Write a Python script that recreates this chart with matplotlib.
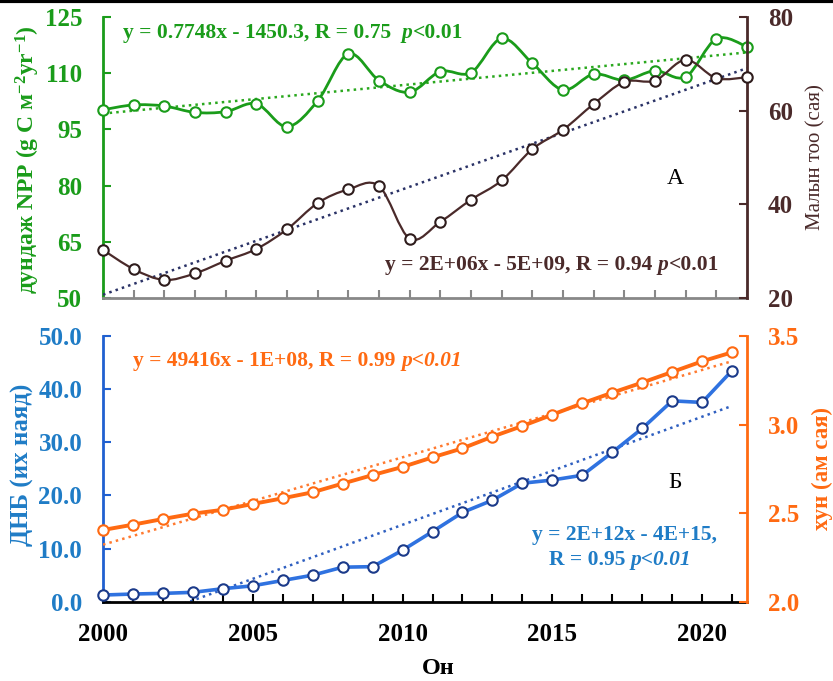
import numpy as np
import matplotlib
matplotlib.use("Agg")
import matplotlib.pyplot as plt
from matplotlib.path import Path
from matplotlib.patches import PathPatch
from matplotlib.lines import Line2D
from matplotlib.ticker import MultipleLocator, FixedLocator

plt.rcParams['font.family'] = ['Liberation Serif', 'DejaVu Serif']
plt.rcParams['mathtext.fontset'] = 'custom'
plt.rcParams['mathtext.rm'] = 'Liberation Serif:bold'
plt.rcParams['mathtext.bf'] = 'Liberation Serif:bold'
plt.rcParams['mathtext.it'] = 'Liberation Serif:italic:bold'

years = np.arange(2000, 2022)

# panel A
npp = [100.2, 101.5, 101.2, 99.5, 99.7, 101.8, 95.7, 102.6, 115.1, 108.0, 104.9,
       110.4, 110.1, 119.2, 112.6, 105.5, 109.7, 108.1, 110.6, 109.0, 119.1, 117.0]
livestock = [30.3, 26.2, 23.9, 25.3, 28.0, 30.5, 34.7, 40.3, 43.2, 43.9, 32.7,
             36.3, 41.0, 45.1, 51.8, 55.9, 61.4, 66.1, 66.4, 70.8, 66.9, 67.1]

# panel Б
gdp = [1.26, 1.45, 1.57, 1.77, 2.45, 3.0, 4.0, 5.0, 6.5, 6.6, 9.7,
       13.2, 16.8, 19.1, 22.3, 22.9, 23.8, 28.1, 32.6, 37.8, 37.5, 43.5]
population = [2.405, 2.435, 2.467, 2.497, 2.519, 2.552, 2.584, 2.618, 2.667, 2.715, 2.761,
              2.815, 2.866, 2.932, 2.992, 3.056, 3.12, 3.18, 3.237, 3.297, 3.357, 3.408]

GREEN = '#1a9c1a'
BROWN = '#4a2a2a'
NAVY = '#2a3266'
BLUE = '#2f72e0'
BLUE_TXT = '#1f7cc6'
ORANGE = '#ff6a12'
EQ = 15.5
MS = 7.5


def smooth_line(ax, x, y, color, lw):
    # excel-like smoothed line (catmull-rom as cubic bezier)
    p = np.column_stack([x, y]).astype(float)
    verts = [p[0]]
    codes = [Path.MOVETO]
    n = len(p)
    for i in range(n - 1):
        p0 = p[i - 1] if i > 0 else p[i]
        p3 = p[i + 2] if i + 2 < n else p[i + 1]
        c1 = p[i] + (p[i + 1] - p0) / 6
        c2 = p[i + 1] - (p3 - p[i]) / 6
        verts += [c1, c2, p[i + 1]]
        codes += [Path.CURVE4] * 3
    ax.add_patch(PathPatch(Path(verts, codes), fill=False, edgecolor=color, lw=lw, zorder=3))


def trend(ax, x, y, color):
    k, b = np.polyfit(x, y, 1)
    ax.plot(x, k * np.asarray(x) + b, ':', color=color, lw=1.8, zorder=2)


def rich(ax, x, y, parts, color, size):
    t = ax.text(x, y, parts[0][0], transform=ax.transAxes, color=color, fontsize=size,
                fontweight='bold', style=parts[0][1], va='center', ha='left')
    for s, st in parts[1:]:
        t = ax.annotate(s, xy=(1, 0), xycoords=t, color=color, fontsize=size,
                        fontweight='bold', style=st, va='bottom', ha='left')


fig = plt.figure(figsize=(8.33, 6.81), dpi=100, facecolor='white')
ax1 = fig.add_axes([0.1237, 0.5620, 0.7731, 0.4135])
ax1r = ax1.twinx()
ax2 = fig.add_axes([0.1237, 0.1164, 0.7731, 0.3902])
ax2r = ax2.twinx()

# --- panel A ---
trend(ax1, years, npp, '#2aa81e')
smooth_line(ax1, years, npp, GREEN, 2.0)
ax1.plot(years, npp, 'o', ms=MS, mfc='white', mec=GREEN, mew=1.5, zorder=4, clip_on=False)
trend(ax1r, years, livestock, NAVY)
smooth_line(ax1r, years, livestock, BROWN, 1.6)
ax1r.plot(years, livestock, 'o', ms=MS, mfc='white', mec='#2e1c1c', mew=1.5, zorder=4, clip_on=False)

ax1.set_xlim(2000, 2021)
ax1.set_ylim(50, 125)
ax1r.set_ylim(20, 80)
ax1.yaxis.set_major_locator(FixedLocator(np.arange(50, 126, 15)))
ax1r.yaxis.set_major_locator(MultipleLocator(20))
ax1.xaxis.set_major_locator(MultipleLocator(1))
ax1.tick_params(axis='x', direction='in', length=6, width=1.5, color='#888888', labelbottom=False)
ax1.tick_params(axis='y', direction='in', length=6, width=1.5, color=GREEN, labelcolor=GREEN,
                labelsize=18, pad=15)
ax1r.tick_params(axis='y', direction='in', length=6, width=1.5, color=BROWN, labelcolor=BROWN,
                 labelsize=18, pad=15)
for a in (ax1, ax1r):
    a.spines['top'].set_visible(False)
    for lab in a.get_yticklabels():
        lab.set_fontweight('bold')
ax1.spines['right'].set_visible(False)
ax1.spines['left'].set_color(GREEN)
ax1.spines['left'].set_linewidth(2)
ax1.spines['bottom'].set_color('#888888')
ax1.spines['bottom'].set_linewidth(2)
ax1r.spines['left'].set_visible(False)
ax1r.spines['bottom'].set_visible(False)
ax1r.spines['right'].set_color(BROWN)
ax1r.spines['right'].set_linewidth(2)

rich(ax1r, 0.031, 0.942, [('y = 0.7748x - 1450.3, R = 0.75  ', 'normal'), ('p', 'italic'),
                          ('<0.01', 'normal')], GREEN, EQ)
rich(ax1r, 0.438, 0.118, [('y = 2E+06x - 5E+09, R = 0.94 ', 'normal'), ('p', 'italic'),
                          ('<0.01', 'normal')], '#4a2a2a', EQ)
ax1r.text(0.888, 0.427, 'А', transform=ax1r.transAxes, fontsize=17, ha='center', va='center')

# --- panel Б ---
trend(ax2, years, gdp, '#2f5fc0')
ax2.plot(years, gdp, '-', color=BLUE, lw=2.6, zorder=3)
ax2.plot(years, gdp, 'o', ms=MS, mfc='white', mec='#1b3a8a', mew=1.5, zorder=4, clip_on=False)
trend(ax2r, years, population, '#ff7a30')
ax2r.plot(years, population, '-', color=ORANGE, lw=2.8, zorder=3)
ax2r.plot(years, population, 'o', ms=MS, mfc='white', mec=ORANGE, mew=1.5, zorder=4, clip_on=False)

ax2.set_xlim(2000, 2021.5)
ax2.set_ylim(0, 50)
ax2r.set_ylim(2.0, 3.5)
ax2.yaxis.set_major_locator(MultipleLocator(10))
ax2r.yaxis.set_major_locator(MultipleLocator(0.5))
ax2.yaxis.set_major_formatter('{x:.1f}')
ax2r.yaxis.set_major_formatter('{x:.1f}')
ax2.xaxis.set_major_locator(FixedLocator([2000, 2005, 2010, 2015, 2020]))
ax2.xaxis.set_minor_locator(MultipleLocator(1))
ax2.tick_params(axis='x', which='both', direction='in', length=6, width=1.5, color='black',
                labelsize=18, pad=15)
ax2.tick_params(axis='y', direction='in', length=6, width=1.5, color='#2060d0', labelcolor=BLUE_TXT,
                labelsize=18, pad=15)
ax2r.tick_params(axis='y', direction='in', length=6, width=1.5, color=ORANGE, labelcolor=ORANGE,
                 labelsize=18, pad=15)
for lab in ax2.get_xticklabels() + ax2.get_yticklabels() + ax2r.get_yticklabels():
    lab.set_fontweight('bold')
for a in (ax2, ax2r):
    a.spines['top'].set_visible(False)
ax2.spines['right'].set_visible(False)
ax2.spines['left'].set_color('#2060d0')
ax2.spines['left'].set_linewidth(2)
ax2.spines['bottom'].set_linewidth(2)
ax2r.spines['left'].set_visible(False)
ax2r.spines['bottom'].set_visible(False)
ax2r.spines['right'].set_color(ORANGE)
ax2r.spines['right'].set_linewidth(2)

rich(ax2r, 0.047, 0.906, [('y = 49416x - 1E+08, R = 0.99 ', 'normal'), ('p<0.01', 'italic')],
     ORANGE, EQ)
ax2r.text(0.809, 0.251, 'y = 2E+12x - 4E+15,', transform=ax2r.transAxes, color=BLUE_TXT,
          fontsize=EQ, fontweight='bold', ha='center', va='center')
rich(ax2r, 0.692, 0.157, [('R = 0.95 ', 'normal'), ('p<0.01', 'italic')], BLUE_TXT, EQ)
ax2r.text(0.888, 0.447, 'Б', transform=ax2r.transAxes, fontsize=17, ha='center', va='center')

# axis titles
fig.text(0.034, 1 - 160 / 681, 'дундаж NPP (g C м$^{-2}$yr$^{-1}$)', rotation=90, color=GREEN,
         fontsize=17, fontweight='bold', ha='center', va='center')
fig.text(0.979, 1 - 157 / 681, 'Малын тоо (сая)', rotation=90, color=BROWN,
         fontsize=15, ha='center', va='center')
fig.text(0.027, 1 - 465 / 681, 'ДНБ (их наяд)', rotation=90, color=BLUE_TXT,
         fontsize=18, fontweight='bold', ha='center', va='center')
fig.text(0.987, 1 - 468 / 681, 'хун (ам сая)', rotation=90, color=ORANGE,
         fontsize=16.5, fontweight='bold', ha='center', va='center')
fig.text(0.526, 1 - 668 / 681, 'Он', fontsize=17.5, fontweight='bold', ha='center', va='center')

fig.add_artist(Line2D([0, 1], [0.998, 0.998], color='black', lw=3, transform=fig.transFigure))

fig.savefig('out.png', dpi=100, facecolor='white')
